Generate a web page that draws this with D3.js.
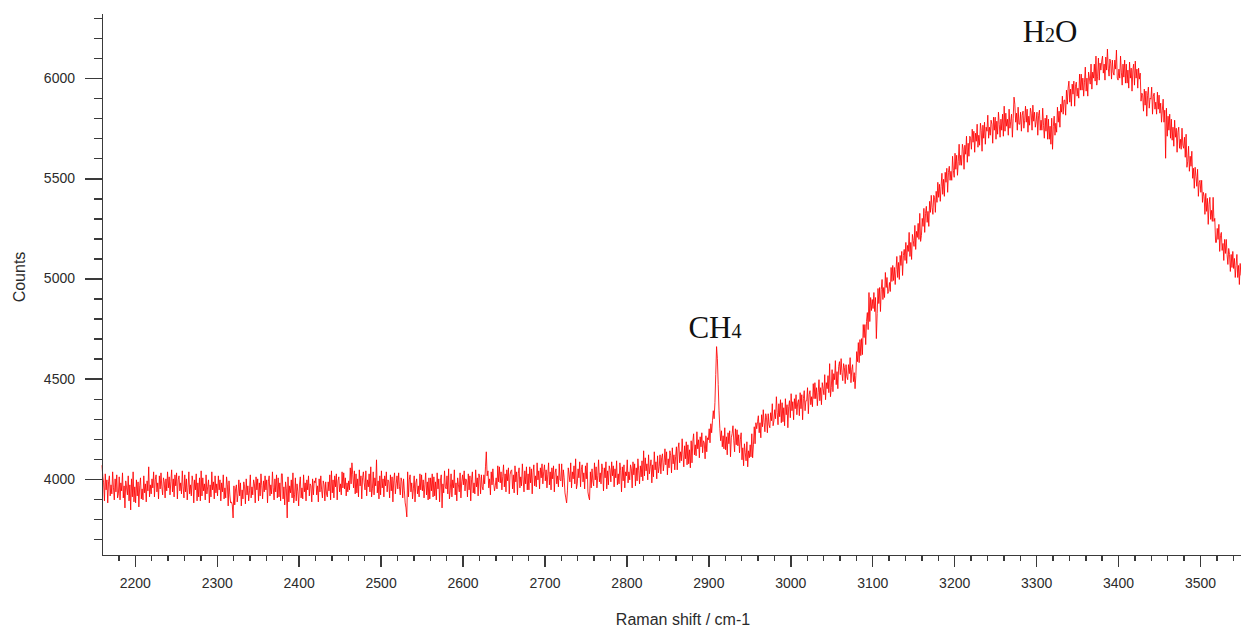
<!DOCTYPE html>
<html>
<head>
<meta charset="utf-8">
<script src="https://cdn.jsdelivr.net/npm/d3@7"></script>
<style>
  html, body { margin: 0; padding: 0; background: #fff; }
  svg { display: block; }
  .axis path, .axis line { stroke: #3a3a3a; stroke-width: 1.4; shape-rendering: crispEdges; }
  .axis text { font-family: "Liberation Sans", Arial, sans-serif; font-size: 14px; fill: #2b2b2b; }
  .title { font-family: "Liberation Sans", Arial, sans-serif; font-size: 16px; fill: #2b2b2b; }
  .peak { font-family: "Liberation Serif", "Times New Roman", serif; font-size: 31px; fill: #111; }
</style>
</head>
<body>
<svg id="chart" width="1241" height="630"></svg>
<script>
// Raman spectrum: counts sampled every 1 cm-1 starting at 2160 cm-1 (20 per row)
const shiftStart = 2160;
const shiftStep = 1;
const counts = [
  4068, 4010, 3980, 3890, 4025, 3945, 3995, 3880, 3985, 4015, 3915, 3970, 3925, 4035, 3955, 3895, 4000, 3935, 4020, 3905,
  3925, 4010, 3895, 3980, 3940, 4030, 3905, 3965, 3855, 3990, 3955, 3920, 4015, 3890, 3970, 3845, 4000, 3910, 4035, 3885,
  3960, 3880, 3995, 3915, 3985, 3860, 3965, 4005, 3900, 3950, 3895, 4015, 3930, 3975, 3885, 3990, 3940, 4060, 3910, 3970,
  3925, 4000, 3955, 4035, 3910, 3995, 4020, 3935, 3980, 3900, 4015, 3950, 4030, 3960, 3920, 4005, 3985, 3905, 4000, 3940,
  4035, 3955, 4010, 3920, 3985, 4045, 3935, 4000, 3910, 4020, 3965, 4030, 3900, 3995, 4015, 3940, 3980, 3925, 4040, 3960,
  3905, 4020, 3935, 4000, 3895, 3955, 4035, 3925, 3970, 3915, 4015, 3985, 3880, 3995, 3945, 4025, 3890, 3980, 3910, 4005,
  3890, 4040, 3915, 4005, 3940, 3975, 3895, 4020, 3925, 3960, 3995, 3880, 3970, 3910, 4035, 3945, 3985, 3900, 4015, 3930,
  3975, 3915, 4015, 3945, 3995, 3890, 3980, 3935, 4020, 3900, 3955, 3905, 4010, 3970, 3865, 3990, 3920, 3880, 3885, 3870,
  3805, 3965, 3870, 3950, 3970, 3885, 3925, 3995, 3915, 3980, 3865, 3945, 3900, 3985, 3960, 3875, 4000, 3920, 3965, 3890,
  3940, 4020, 3905, 3960, 3920, 3995, 3975, 3880, 4010, 3945, 4000, 3890, 3980, 3915, 4025, 3965, 3900, 3990, 3935, 4015,
  3945, 3995, 3880, 3985, 4015, 3915, 3970, 3925, 4035, 3955, 3895, 4000, 3935, 4020, 3905, 4005, 3910, 3980, 3890, 4025,
  4025, 3900, 3960, 3870, 3985, 3950, 3805, 4010, 3885, 3965, 3930, 3995, 3905, 4030, 3880, 3920, 4005, 3890, 3975, 3935,
  3865, 3970, 4010, 3905, 3955, 3900, 4020, 3935, 3980, 3890, 3995, 3945, 4015, 3915, 3975, 3965, 3885, 4000, 3920, 3990,
  3980, 4005, 3920, 3965, 3885, 4000, 3935, 4015, 3945, 3905, 3990, 3970, 3890, 3985, 3925, 3910, 3985, 3940, 4020, 3895,
  4040, 3930, 3995, 3905, 4015, 3960, 4025, 3895, 3990, 4010, 3935, 3975, 3920, 4035, 3955, 4030, 3950, 4005, 3915, 3980,
  3935, 3990, 3945, 4055, 3975, 4080, 4020, 3955, 4040, 3925, 4025, 3930, 4000, 3910, 4045, 3965, 4015, 3900, 4005, 4035,
  3980, 3945, 4040, 3915, 3995, 3960, 4025, 3935, 4060, 3910, 3950, 4035, 3920, 4005, 3965, 4095, 3930, 3990, 3900, 4015,
  3920, 4040, 3955, 4000, 3910, 4015, 3965, 4035, 3935, 3995, 3985, 3905, 4020, 3940, 4010, 3885, 3990, 4030, 3925, 3975,
  4015, 3950, 4030, 3960, 3920, 4005, 3985, 3905, 4000, 3940, 3880, 3855, 3810, 4035, 3910, 3995, 4020, 3935, 3980, 3900,
  3950, 4015, 3885, 3980, 4000, 3925, 3965, 3910, 4025, 3945, 4020, 3940, 3995, 3905, 3970, 4030, 3920, 3985, 3895, 4005,
  3900, 4005, 3940, 4025, 3910, 4010, 3915, 3985, 3895, 4030, 3950, 4000, 3885, 3990, 4020, 3855, 3975, 3930, 4040, 3960,
  3950, 4015, 3925, 4050, 3900, 3940, 4025, 3910, 3995, 3955, 4045, 3920, 3980, 3890, 4005, 3970, 3935, 4030, 3905, 3985,
  4020, 3970, 4040, 3940, 4000, 3990, 3910, 4025, 3945, 4015, 3890, 3995, 4035, 3930, 3980, 3925, 4045, 3960, 4005, 3915,
  4025, 4005, 3925, 4020, 3960, 3945, 4020, 3975, 4060, 4135, 4015, 4040, 3955, 4000, 3920, 4035, 3970, 4050, 3980, 3940,
  3965, 4005, 3950, 4065, 3985, 4060, 3980, 4035, 3945, 4010, 4070, 3960, 4025, 3935, 4045, 3990, 4055, 3925, 4020, 4040,
  4045, 3950, 4020, 3930, 4065, 3985, 4035, 3920, 4025, 4055, 3955, 4010, 3965, 4075, 3995, 3935, 4040, 3975, 4060, 3945,
  4025, 3945, 4060, 3980, 4050, 3925, 4030, 4070, 3965, 4015, 3960, 4080, 3995, 4040, 3950, 4055, 4005, 4075, 3975, 4035,
  4070, 3990, 4045, 3955, 4020, 4080, 3970, 4035, 3945, 4055, 4000, 4065, 3935, 4030, 4050, 3975, 4015, 3960, 4075, 3995,
  3990, 4075, 3960, 4045, 4005, 3930, 3905, 3880, 3940, 4055, 4020, 3985, 4080, 3955, 4035, 4000, 4065, 3975, 4100, 3950,
  3975, 4050, 4005, 4085, 3960, 4045, 4070, 3985, 4030, 3950, 4065, 4000, 4080, 3935, 3910, 3895, 4035, 3955, 4050, 3990,
  3965, 4080, 3995, 4060, 3955, 4015, 4095, 3985, 4030, 3975, 4075, 4045, 3940, 4055, 4005, 4085, 3950, 4040, 3970, 4065,
  4045, 3985, 4085, 4015, 4065, 3960, 4050, 4005, 4090, 3970, 4025, 3975, 4080, 4040, 3935, 4060, 3990, 4070, 3955, 4035,
  4015, 4095, 3980, 4035, 3995, 4070, 4050, 3955, 4085, 4020, 4075, 3965, 4055, 3990, 4100, 4040, 3975, 4065, 4010, 4090,
  3990, 4140, 4015, 4105, 4040, 4075, 3995, 4120, 4025, 4060, 4095, 3980, 4070, 4010, 4135, 4045, 4085, 4000, 4115, 4030,
  4060, 4120, 4025, 4105, 4125, 4040, 4080, 4150, 4070, 4135, 4020, 4100, 4055, 4140, 4115, 4030, 4155, 4075, 4120, 4045,
  4110, 4160, 4045, 4150, 4180, 4080, 4135, 4090, 4200, 4120, 4060, 4165, 4100, 4185, 4070, 4170, 4075, 4145, 4055, 4190,
  4080, 4185, 4225, 4120, 4170, 4115, 4235, 4150, 4195, 4105, 4210, 4160, 4230, 4130, 4190, 4180, 4100, 4215, 4135, 4205,
  4195, 4250, 4180, 4275, 4230, 4290, 4340, 4300, 4380, 4520, 4660, 4600, 4470, 4340, 4250, 4190, 4240, 4160, 4215, 4150,
  4255, 4145, 4210, 4120, 4230, 4175, 4240, 4110, 4205, 4225, 4265, 4190, 4135, 4250, 4170, 4245, 4165, 4220, 4130, 4195,
  4230, 4095, 4155, 4065, 4175, 4130, 4090, 4185, 4060, 4140, 4105, 4170, 4110, 4225, 4105, 4170, 4260, 4175, 4280, 4250,
  4285, 4315, 4230, 4280, 4205, 4320, 4260, 4345, 4280, 4235, 4325, 4305, 4230, 4325, 4270, 4255, 4330, 4290, 4375, 4265,
  4290, 4345, 4300, 4410, 4330, 4270, 4375, 4310, 4395, 4280, 4380, 4285, 4355, 4265, 4400, 4320, 4370, 4255, 4360, 4390,
  4305, 4425, 4340, 4385, 4295, 4400, 4350, 4420, 4320, 4380, 4395, 4315, 4430, 4350, 4420, 4295, 4400, 4440, 4340, 4390,
  4390, 4455, 4325, 4420, 4440, 4370, 4410, 4360, 4475, 4400, 4480, 4400, 4455, 4365, 4430, 4495, 4390, 4455, 4370, 4480,
  4450, 4420, 4520, 4395, 4480, 4450, 4515, 4430, 4575, 4410, 4455, 4545, 4435, 4525, 4495, 4590, 4470, 4535, 4450, 4560,
  4585, 4520, 4600, 4530, 4490, 4575, 4555, 4475, 4570, 4510, 4495, 4570, 4525, 4605, 4480, 4545, 4570, 4485, 4530, 4450,
  4515, 4635, 4585, 4680, 4580, 4695, 4615, 4700, 4620, 4770, 4705, 4770, 4670, 4785, 4830, 4745, 4930, 4785, 4905, 4840,
  4895, 4850, 4930, 4835, 4905, 4700, 4825, 4950, 4875, 4955, 4835, 4945, 4995, 4895, 4955, 4905, 5030, 4955, 5005, 4925,
  4935, 4980, 4935, 5055, 4985, 5065, 4990, 5055, 4970, 5045, 5110, 5005, 5080, 4995, 5115, 5065, 5135, 5015, 5115, 5145,
  5090, 5180, 5075, 5165, 5135, 5230, 5110, 5180, 5095, 5220, 5190, 5160, 5265, 5145, 5235, 5205, 5275, 5195, 5325, 5185,
  5215, 5300, 5260, 5350, 5230, 5325, 5360, 5280, 5335, 5260, 5385, 5330, 5415, 5355, 5320, 5415, 5405, 5330, 5435, 5380,
  5480, 5405, 5470, 5385, 5460, 5525, 5420, 5495, 5410, 5530, 5480, 5550, 5430, 5530, 5560, 5490, 5535, 5490, 5610, 5540,
  5505, 5625, 5545, 5615, 5515, 5585, 5670, 5565, 5615, 5565, 5670, 5645, 5545, 5665, 5620, 5710, 5580, 5675, 5610, 5710,
  5700, 5645, 5745, 5680, 5735, 5630, 5725, 5685, 5770, 5655, 5715, 5665, 5775, 5740, 5635, 5765, 5700, 5780, 5670, 5755,
  5735, 5815, 5700, 5755, 5715, 5790, 5770, 5675, 5805, 5740, 5805, 5695, 5785, 5720, 5830, 5770, 5705, 5795, 5740, 5820,
  5710, 5860, 5735, 5825, 5760, 5795, 5715, 5845, 5750, 5785, 5820, 5705, 5800, 5905, 5870, 5780, 5825, 5740, 5855, 5770,
  5770, 5830, 5735, 5815, 5835, 5750, 5790, 5860, 5780, 5845, 5730, 5810, 5765, 5850, 5825, 5740, 5865, 5785, 5830, 5755,
  5785, 5830, 5715, 5815, 5840, 5740, 5790, 5740, 5850, 5765, 5700, 5800, 5735, 5815, 5695, 5795, 5695, 5760, 5670, 5800,
  5645, 5760, 5810, 5715, 5775, 5730, 5855, 5780, 5835, 5755, 5870, 5830, 5910, 5820, 5890, 5890, 5815, 5940, 5870, 5950,
  5985, 5880, 5945, 5860, 5970, 5920, 5985, 5860, 5960, 5980, 5910, 5950, 5900, 6020, 5940, 6020, 5940, 6000, 5910, 5980,
  6055, 5935, 6000, 5910, 6030, 6000, 5970, 6070, 5945, 6030, 6000, 6070, 5985, 6110, 5965, 6010, 6100, 5990, 6075, 6040,
  6085, 6110, 6025, 6070, 5990, 6105, 6040, 6145, 6050, 6010, 6095, 6075, 5995, 6090, 6030, 6015, 6090, 6045, 6140, 6000,
  5990, 6045, 6000, 6110, 6030, 5965, 6070, 6005, 6090, 5975, 6070, 5975, 6040, 5950, 6080, 6000, 6050, 5935, 6040, 6070,
  5965, 6085, 6000, 6045, 5950, 6050, 5995, 6025, 5885, 5925, 5915, 5835, 5945, 5865, 5935, 5810, 5915, 5955, 5850, 5900,
  5895, 5955, 5820, 5910, 5925, 5845, 5880, 5820, 5930, 5845, 5915, 5825, 5875, 5780, 5840, 5895, 5780, 5840, 5600, 5850,
  5710, 5810, 5740, 5820, 5700, 5795, 5690, 5755, 5660, 5790, 5705, 5750, 5630, 5730, 5755, 5650, 5695, 5645, 5750, 5665,
  5650, 5705, 5605, 5720, 5555, 5585, 5660, 5535, 5610, 5560, 5635, 5500, 5550, 5450, 5555, 5510, 5460, 5545, 5410, 5480,
  5490, 5430, 5490, 5380, 5430, 5410, 5320, 5425, 5335, 5400, 5270, 5370, 5405, 5295, 5340, 5285, 5405, 5285, 5300, 5180,
  5180, 5250, 5195, 5270, 5135, 5215, 5230, 5140, 5175, 5090, 5195, 5125, 5195, 5120, 5070, 5150, 5120, 5035, 5120, 5055,
  5135, 5050, 5100, 5005, 5065, 5120, 5005, 5065, 4970, 5075, 5015
];

// axis ranges and tick values
const shiftDomain = [2160, 3550];
const countDomain = [3620, 6325];
const shiftMajor = [2200, 2300, 2400, 2500, 2600, 2700, 2800, 2900, 3000, 3100, 3200, 3300, 3400, 3500];
const shiftMinor = [2180, 2220, 2240, 2260, 2280, 2320, 2340, 2360, 2380, 2420, 2440, 2460, 2480,
  2520, 2540, 2560, 2580, 2620, 2640, 2660, 2680, 2720, 2740, 2760, 2780, 2820, 2840, 2860, 2880,
  2920, 2940, 2960, 2980, 3020, 3040, 3060, 3080, 3120, 3140, 3160, 3180, 3220, 3240, 3260, 3280,
  3320, 3340, 3360, 3380, 3420, 3440, 3460, 3480, 3520, 3540];
const countMajor = [4000, 4500, 5000, 5500, 6000];
const countMinor = [3700, 3800, 3900, 4100, 4200, 4300, 4400, 4600, 4700, 4800, 4900,
  5100, 5200, 5300, 5400, 5600, 5700, 5800, 5900, 6100, 6200, 6300];

// peak annotations: main text, smaller digit, trailing text
const peakLabels = [
  { main: "CH", sub: "4", tail: "", shift: 2908, count: 4705 },
  { main: "H", sub: "2", tail: "O", shift: 3317, count: 6180 }
];

const svg = d3.select("#chart");
const plotLeft = 102, plotRight = 1241, plotTop = 13, plotBottom = 555;

const x = d3.scaleLinear().domain(shiftDomain).range([plotLeft, plotRight]);
const y = d3.scaleLinear().domain(countDomain).range([plotBottom, plotTop]);

// spectrum trace
const spectrum = counts.map((c, i) => ({ shift: shiftStart + i * shiftStep, count: c }));
const line = d3.line().x(d => x(d.shift)).y(d => y(d.count));
svg.append("path")
  .datum(spectrum)
  .attr("fill", "none")
  .attr("stroke", "#ff0000")
  .attr("stroke-width", 0.85)
  .attr("stroke-linejoin", "round")
  .attr("d", line);

// x axis
svg.append("g").attr("class", "axis")
  .attr("transform", `translate(0,${plotBottom})`)
  .call(d3.axisBottom(x).tickValues(shiftMinor).tickSize(6).tickFormat("").tickSizeOuter(0));
svg.append("g").attr("class", "axis")
  .attr("transform", `translate(0,${plotBottom})`)
  .call(d3.axisBottom(x).tickValues(shiftMajor).tickSize(12).tickPadding(11).tickSizeOuter(0).tickFormat(d3.format("d")));

// y axis
svg.append("g").attr("class", "axis")
  .attr("transform", `translate(${plotLeft},0)`)
  .call(d3.axisLeft(y).tickValues(countMinor).tickSize(8).tickFormat("").tickSizeOuter(0));
svg.append("g").attr("class", "axis")
  .attr("transform", `translate(${plotLeft},0)`)
  .call(d3.axisLeft(y).tickValues(countMajor).tickSize(17).tickPadding(10).tickSizeOuter(0).tickFormat(d3.format("d")));

// axis titles
svg.append("text").attr("class", "title")
  .attr("x", 683).attr("y", 625)
  .attr("text-anchor", "middle")
  .text("Raman shift / cm-1");
svg.append("text").attr("class", "title")
  .attr("transform", `translate(25,277) rotate(-90)`)
  .attr("text-anchor", "middle")
  .text("Counts");

// peak labels
peakLabels.forEach(p => {
  const t = svg.append("text").attr("class", "peak")
    .attr("x", x(p.shift)).attr("y", y(p.count))
    .attr("text-anchor", "middle");
  t.append("tspan").text(p.main);
  t.append("tspan").attr("font-size", "20px").text(p.sub);
  if (p.tail) t.append("tspan").text(p.tail);
});
</script>
</body>
</html>
